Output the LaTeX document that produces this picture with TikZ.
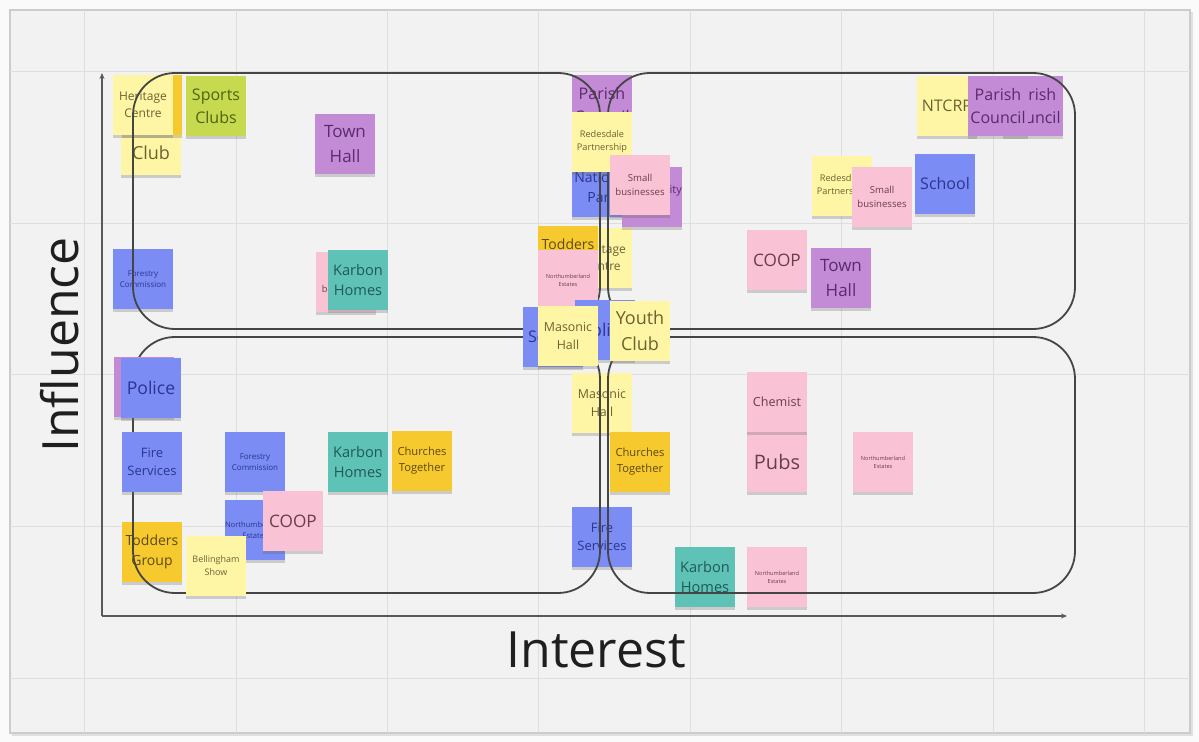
\documentclass[tikz,border=0pt]{standalone}
\usepackage{fontspec}
\setmainfont{Open Sans}
\usetikzlibrary{shadows,arrows.meta}
\definecolor{pagebg}{HTML}{FAFAFA}
\definecolor{panel}{HTML}{F2F2F2}
\definecolor{gridc}{HTML}{DEDEDE}
\definecolor{quadc}{HTML}{454545}
\definecolor{ylwF}{HTML}{FEF6A4}\definecolor{ylwT}{HTML}{6B6232}
\definecolor{dylF}{HTML}{F6C92F}\definecolor{dylT}{HTML}{5E4A12}
\definecolor{pnkF}{HTML}{F9C3D5}\definecolor{pnkT}{HTML}{6A3D4E}
\definecolor{bluF}{HTML}{7B8CF4}\definecolor{bluT}{HTML}{2B3592}
\definecolor{purF}{HTML}{C38BD6}\definecolor{purT}{HTML}{5B2A6C}
\definecolor{teaF}{HTML}{5EC2B7}\definecolor{teaT}{HTML}{1F5A55}
\definecolor{limF}{HTML}{C6D94F}\definecolor{limT}{HTML}{4D6412}
\newcommand\notefs[1]{\pgfmathsetlengthmacro\notelsk{1.42*#1pt}\fontsize{#1pt}{\notelsk}\selectfont}
\tikzset{
  note/.style={rectangle, minimum width=30pt, minimum height=30pt, inner sep=0pt, align=center,
    drop shadow={shadow xshift=0pt, shadow yshift=-1.3pt, opacity=0.28, fill=black!60}},
  ylw/.style={note, fill=ylwF, text=ylwT},
  dyl/.style={note, fill=dylF, text=dylT},
  pnk/.style={note, fill=pnkF, text=pnkT},
  blu/.style={note, fill=bluF, text=bluT},
  pur/.style={note, fill=purF, text=purT},
  tea/.style={note, fill=teaF, text=teaT},
  lim/.style={note, fill=limF, text=limT},
  fsz/.style={font=\notefs{#1}},
  quad/.style={draw=quadc, line width=0.9pt, rounded corners=21pt},
  axis/.style={draw=black!65, line width=0.55pt, -{Stealth[length=3pt,width=2.5pt]}},
  axlabel/.style={font=\fontsize{25pt}{30pt}\selectfont, text=black!88}
}
\begin{document}
\begin{tikzpicture}[x=0.5pt,y=-0.5pt]
\useasboundingbox (0,0) rectangle (1199,742);
\fill[pagebg] (0,0) rectangle (1199,742);
\fill[black!12] (12,12) rectangle (1193,736);
\fill[panel] (10,10) rectangle (1190,733);
\draw[black!20, line width=0.6pt] (10,10) rectangle (1190,733);
% grid
\foreach \gx in {84,236,387,538,690,841,993,1144} \draw[gridc, line width=0.5pt] (\gx,10) -- (\gx,733);
\foreach \gy in {72,224,375,527,678} \draw[gridc, line width=0.5pt] (10,\gy) -- (1190,\gy);

% ---------- lower layer notes ----------
\node[ylw] (clubTL) at (151,145) {};
\node[text=ylwT, fsz=9, inner sep=0pt] (clubTLt) at (151,153) {Club};
\node[dyl] (dy1) at (152,105) {};
\node[ylw, fsz=6] (heritTL) at (143,105) {Heritage\\Centre};
\node[lim, fsz=8] (sports) at (216,106) {Sports\\Clubs};
\node[pur, fsz=8.5] (townTL) at (345,144) {Town\\Hall};
\node[blu, fsz=4] (forestTL) at (143,279) {Forestry\\Commission};
\node[pnk, fsz=4.7] (pinkTL) at (346,282) {Small\\businesses};
\node[tea, fsz=7.3] (karbonTL) at (358,280) {Karbon\\Homes};
\node[dyl, fsz=7] (todders) at (152,552) {Todders\\Group};
\node[blu, fsz=4] (forestBL) at (255,462) {Forestry\\Commission};
\node[blu, fsz=3.8] (northBL) at (255,530) {Northumberland\\Estates};
\node[pnk, fsz=8.6] (coopBL) at (293,521) {COOP};
\node[tea, fsz=7.3] (karbonBL) at (358,462) {Karbon\\Homes};
\node[dyl, fsz=5.6] (churchBL) at (422,461) {Churches\\Together};
\node[pur, fsz=8] (parishM) at (602,105) {Parish\\Council};
\node[blu, fsz=7] (natpark) at (602,187) {National\\Park};
\node[ylw, fsz=6] (heritM) at (602,258) {Heritage\\Centre};
\node[ylw, fsz=6.2] (masonic2) at (602,403) {Masonic\\Hall};
\node[dyl, fsz=5.6] (church2) at (640,462) {Churches\\Together};
\node[blu, fsz=6.5] (fire2) at (602,537) {Fire\\Services};
\node[pnk, fsz=10] (pubs) at (777,462) {Pubs};
\node[pnk, fsz=6.3] (chemist) at (777,402) {Chemist};
\node[pnk, fsz=2.8] (northBR) at (883,462) {Northumberland\\Estates};
\node[tea, fsz=7.3] (karbonBR) at (705,577) {Karbon\\Homes};
\node[pnk, fsz=2.8] (northBR2) at (777,577) {Northumberland\\Estates};
\node[ylw, fsz=8] (ntcrp) at (947,106) {NTCRP};
\node[pur, fsz=8] (parishTR2) at (1033,106) {Parish\\Council};
\node[pur, fsz=8] (parishTR1) at (998,106) {Parish\\Council};
\node[ylw, fsz=4.6] (redesTR) at (842,186) {Redesdale\\Partnership};
\node[pnk, fsz=4.8] (smallTR) at (882,197) {Small\\businesses};
\node[blu, fsz=8] (school) at (945,184) {School};
\node[pnk, fsz=8.6] (coopTR) at (777,260) {COOP};
\node[pur, fsz=8.5] (townTR) at (841,278) {Town\\Hall};

% ---------- quadrants and axes ----------
\draw[quad] (133,73) rectangle (600,329);
\draw[quad] (608,73) rectangle (1075,329);
\draw[quad] (133,337) rectangle (600,593);
\draw[quad] (608,337) rectangle (1075,593);
\coordinate (orig) at (102,616);
\coordinate (ytop) at (102,73);
\coordinate (xend) at (1067,616);
\draw[axis] (orig) -- (ytop);
\draw[axis] (orig) -- (xend);
\node[axlabel, rotate=90] (infl) at (60,345) {Influence};
\node[axlabel] (inter) at (596,650) {Interest};

% ---------- upper layer notes ----------
\node[pur] (purpleP) at (144,387) {};
\node[blu, fsz=8.8] (police) at (151,388) {Police};
\node[blu, fsz=6.5] (fire1) at (152,462) {Fire\\Services};
\node[ylw, fsz=4.6] (redesM) at (602,142) {Redesdale\\Partnership};
\node[pur, fsz=5.5] (purpleM) at (652,197) {Community\\Council};
\node[pnk, fsz=4.8] (smallM) at (640,185) {Small\\businesses};
\node[dyl, fsz=7] (toddM) at (568,256) {Todders\\Group};
\node[pnk, fsz=2.8] (northM) at (568,280) {Northumberland\\Estates};
\node[blu, fsz=8] (blueS) at (553,337) {School};
\node[blu, fsz=8.8] (blueLi) at (605,330) {Police};
\node[ylw, fsz=6.2] (masonicM) at (568,336) {Masonic\\Hall};
\node[ylw, fsz=9] (youthM) at (640,331) {Youth\\Club};
\node[ylw, fsz=4.5] (bell) at (216,566) {Bellingham\\Show};
\end{tikzpicture}
\end{document}
